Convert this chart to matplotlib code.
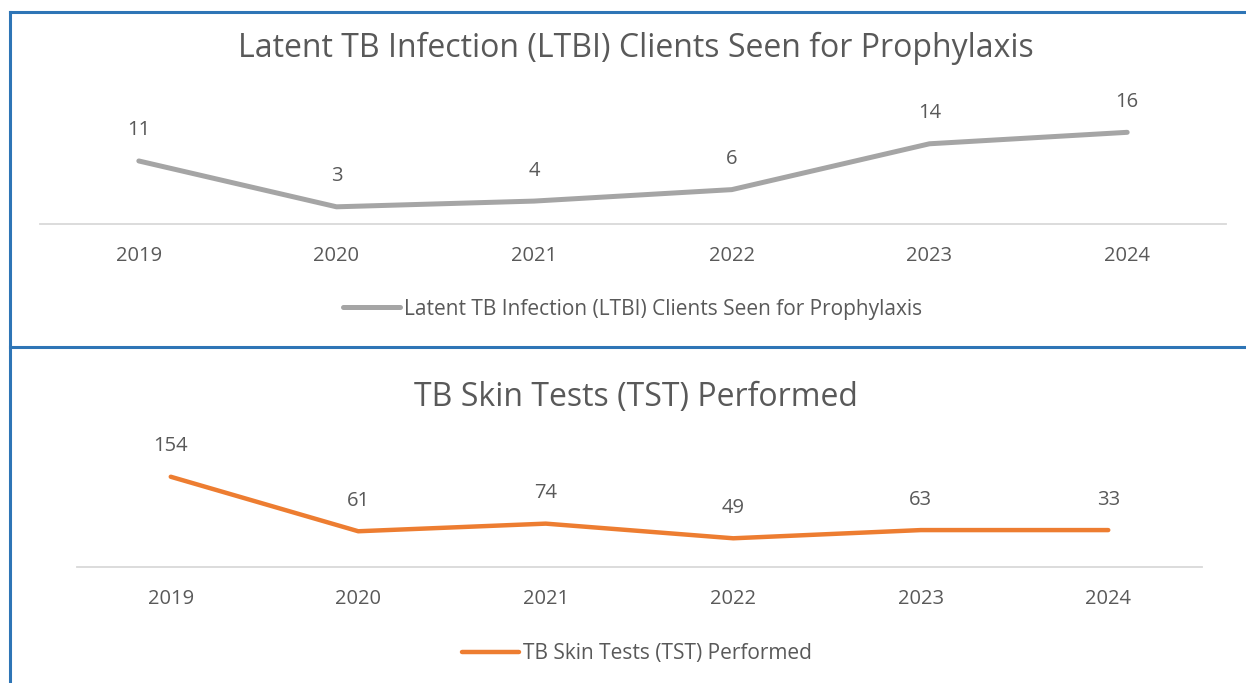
import matplotlib.pyplot as plt
from matplotlib.lines import Line2D

years = ['2019', '2020', '2021', '2022', '2023', '2024']

# top chart
ltbi_title = 'Latent TB Infection (LTBI) Clients Seen for Prophylaxis'
ltbi_values = [11, 3, 4, 6, 14, 16]
ltbi_labels = [11, 3, 4, 6, 14, 16]

# bottom chart (line as drawn, labels as printed)
tst_title = 'TB Skin Tests (TST) Performed'
tst_values = [154, 61, 74, 49, 63, 63]
tst_labels = [154, 61, 74, 49, 63, 33]

W, H = 1246, 683
TEXT = '#595959'
plt.rcParams['font.family'] = ['Open Sans', 'DejaVu Sans']

fig = plt.figure(figsize=(W / 100, H / 100), dpi=100)


def px_axes(x0, x1, y_base, y_top):
    # pixel box (from top-left) -> figure fraction axes
    return fig.add_axes([x0 / W, 1 - y_base / H, (x1 - x0) / W, (y_base - y_top) / H])


def draw_chart(ax, values, labels, color, lw, ymax, title, title_y, legend_x, legend_y):
    x = range(len(values))
    ax.plot(x, values, color=color, lw=lw, solid_capstyle='round', solid_joinstyle='round',
            label=title, clip_on=False)
    for xi, v, lab in zip(x, values, labels):
        ax.annotate(str(lab), (xi, v), xytext=(0, 22), textcoords='offset points',
                    ha='center', va='center', fontsize=14.5, color=TEXT)
    ax.set_xlim(-0.5, len(values) - 0.5)
    ax.set_ylim(0, ymax)
    ax.set_xticks(list(x))
    ax.set_xticklabels(years, fontsize=14.5, color=TEXT)
    ax.tick_params(axis='x', length=0, pad=16)
    ax.set_yticks([])
    for s in ['top', 'left', 'right']:
        ax.spines[s].set_visible(False)
    ax.spines['bottom'].set_color('#D9D9D9')
    ax.spines['bottom'].set_linewidth(1.3)
    ax.patch.set_alpha(0)
    fig.text(636 / W, 1 - title_y / H, title, ha='center', va='baseline', fontsize=23, color=TEXT)
    fig.legend(handles=[Line2D([], [], color=color, lw=lw, solid_capstyle='round')],
               labels=[title], loc='center left', bbox_to_anchor=(legend_x / W, 1 - legend_y / H),
               frameon=False, fontsize=15, labelcolor=TEXT, handlelength=2.75,
               handletextpad=0.2, borderaxespad=0, borderpad=0)


ax1 = px_axes(40, 1226, 224, 224 - 5.73 * 18)
draw_chart(ax1, ltbi_values, ltbi_labels, '#A5A5A5', 3.6, 18, ltbi_title, 57, 343, 309)

ax2 = px_axes(77, 1202, 567, 567 - 0.586 * 180)
draw_chart(ax2, tst_values, tst_labels, '#ED7D31', 3.2, 180, tst_title, 406, 462, 654)

# blue frame lines
blue = '#2E75B6'
for (x0, y0, x1, y1) in [(10, 12, 1246, 12), (10, 12, 10, 683), (10, 347, 1246, 347)]:
    fig.add_artist(Line2D([x0 / W, x1 / W], [1 - y0 / H, 1 - y1 / H], color=blue, lw=2.2))

fig.savefig('out.png', dpi=100)
